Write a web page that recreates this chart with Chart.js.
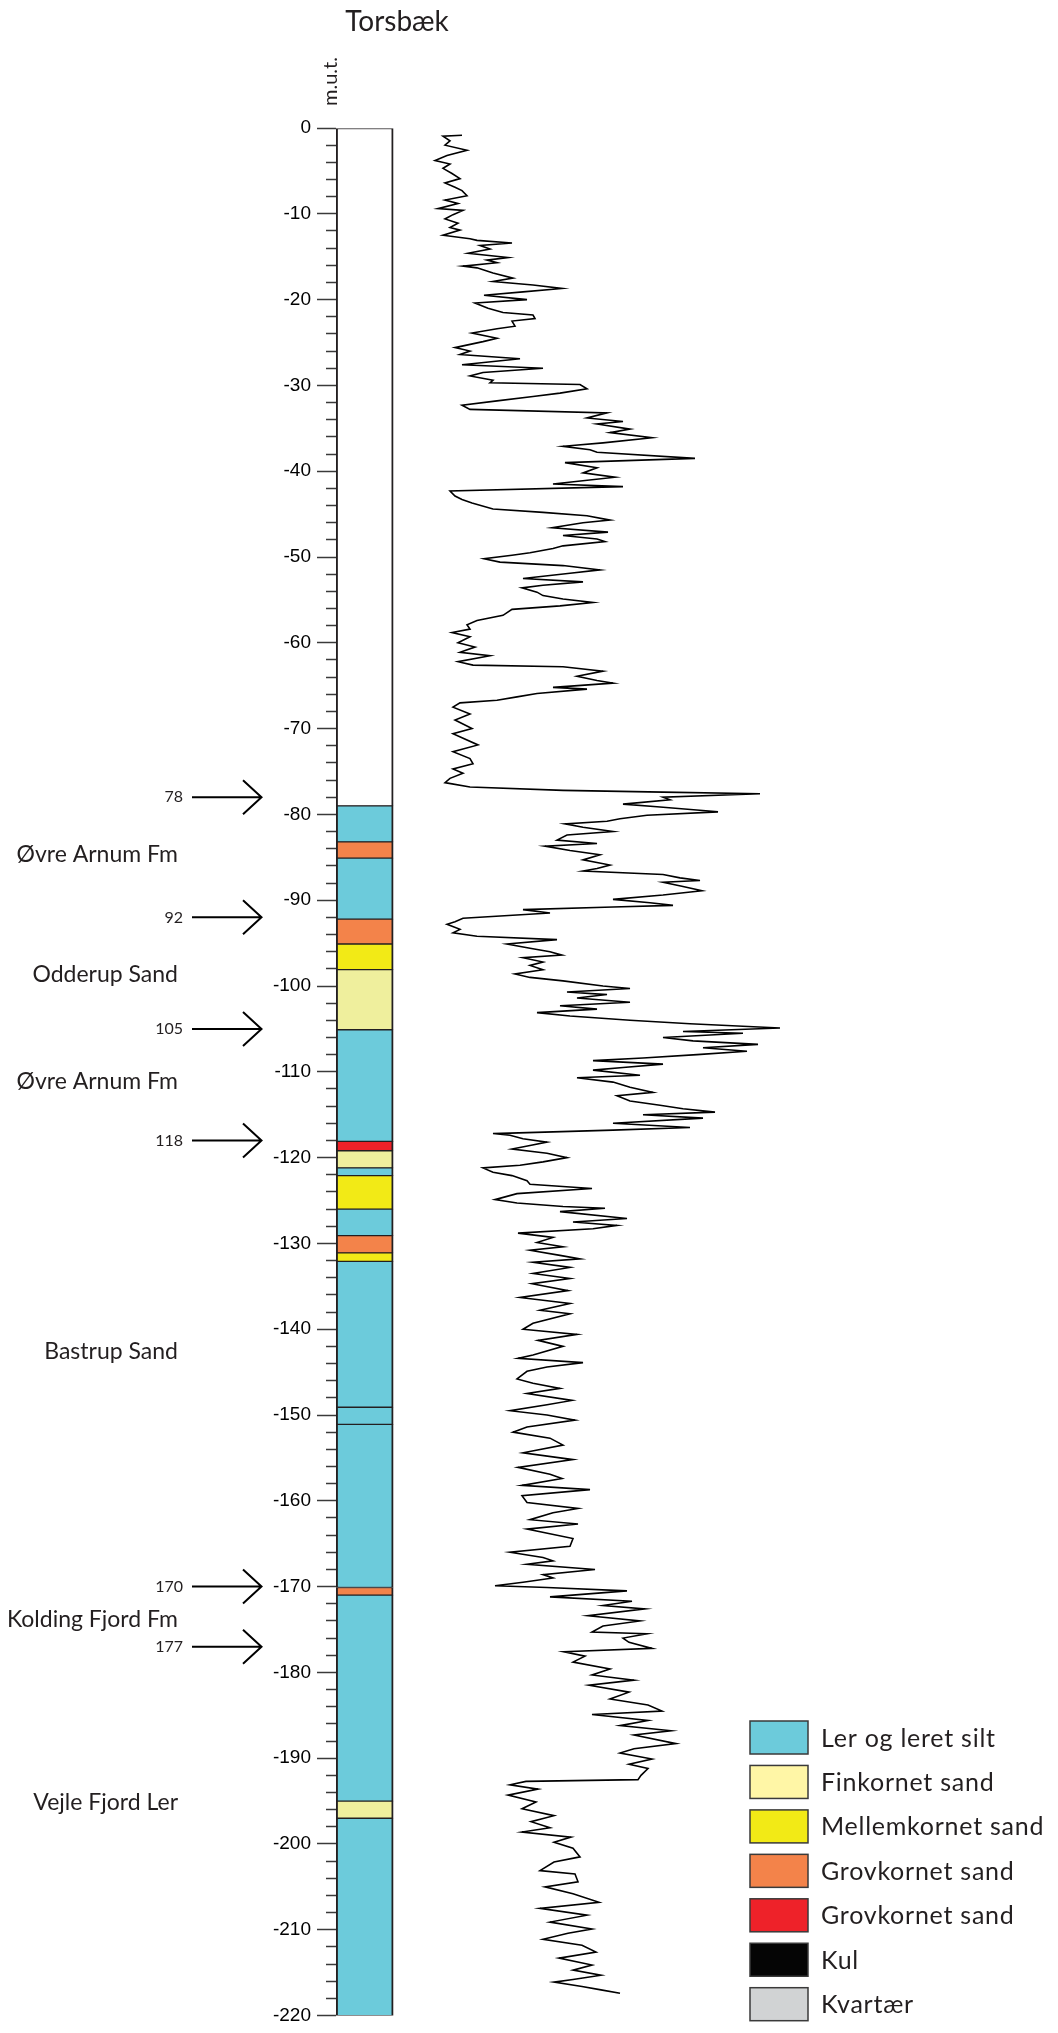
<!DOCTYPE html>
<html>
<head>
<meta charset="utf-8">
<script src="https://cdn.jsdelivr.net/npm/chart.js@4.4.1/dist/chart.umd.min.js"></script>
<style>
html,body{margin:0;padding:0;background:#fff;}
canvas{display:block;}
</style>
</head>
<body>
<canvas id="c" width="1058" height="2033"></canvas>
<script>
// ---------- DATA ----------
const chartTitle = 'Torsbæk';
const depthAxisTitle = 'm.u.t.';

// Lithology column (depth in m below surface)
const layerTop    = [0, 79, 83.2, 85.1, 92.2, 95.1, 98.1, 105.1, 118.1, 119.2, 121.2, 122.1, 126, 129.1, 131.1, 132.1, 149.1, 151.1, 170.1, 171, 195, 197];
const layerBottom = [79, 83.2, 85.1, 92.2, 95.1, 98.1, 105.1, 118.1, 119.2, 121.2, 122.1, 126, 129.1, 131.1, 132.1, 149.1, 151.1, 170.1, 171, 195, 197, 220];
// -1 = not described, otherwise index into lithoNames
const layerLitho  = [-1, 0, 3, 0, 3, 2, 1, 0, 4, 1, 0, 2, 0, 3, 2, 0, 0, 0, 3, 0, 1, 0];

const lithoNames  = ['Ler og leret silt', 'Finkornet sand', 'Mellemkornet sand', 'Grovkornet sand', 'Grovkornet sand', 'Kul', 'Kvartær'];

// Formation names and depths
const formationNames  = ['Øvre Arnum Fm', 'Odderup Sand', 'Øvre Arnum Fm', 'Bastrup Sand', 'Kolding Fjord Fm', 'Vejle Fjord Ler'];
const formationDepths = [84.7, 98.7, 111.1, 142.6, 173.8, 195.2];
const boundaryDepths  = [78, 92, 105, 118, 170, 177];

// Gamma log: depth (m) and reading
const logDepth = [
 0.85,0.96,1.5,2.0,2.6,3.2,3.8,4.2,4.7,5.3,
 5.9,6.4,6.9,7.3,7.9,8.4,8.8,9.4,9.6,10.1,
 10.6,11.1,11.6,11.9,12.5,12.9,13.1,13.4,13.7,14.1,
 14.6,15.1,15.4,15.7,16.1,16.3,16.9,17.5,17.9,18.3,
 18.7,19.1,19.5,20.0,20.4,21.0,21.5,21.8,22.2,22.5,
 23.1,23.4,23.9,24.5,24.9,25.6,26.0,26.4,26.9,27.6,
 28.0,28.5,28.9,29.4,29.7,29.9,30.4,30.9,31.3,31.8,
 32.3,32.8,33.2,33.8,34.2,34.5,35.1,35.5,36.1,36.7,
 37.1,37.5,37.8,38.5,39.0,39.6,40.2,40.7,41.5,41.8,
 42.3,42.9,43.3,43.7,44.4,44.8,45.2,45.7,46.0,46.6,
 47.1,47.5,47.9,48.2,48.7,49.0,49.5,49.8,50.2,50.6,
 51.0,51.5,51.9,52.5,52.9,53.3,53.6,54.1,54.5,54.9,
 55.3,55.7,56.1,56.8,57.4,57.9,58.4,58.8,59.3,60.0,
 60.5,61.1,61.5,62.2,62.6,62.8,63.3,63.9,64.4,64.7,
 65.2,65.4,65.9,66.3,66.7,67.0,67.5,68.3,69.0,70.0,
 70.6,71.9,72.7,73.5,74.1,74.7,75.2,75.8,76.3,76.8,
 77.2,77.4,77.6,78.0,78.3,78.8,79.1,79.7,80.1,80.5,
 80.8,81.1,81.5,82.0,82.4,83.0,83.4,83.7,84.2,84.7,
 85.3,85.9,86.3,86.6,87.0,87.4,87.7,87.9,88.4,88.9,
 89.4,89.9,90.3,90.6,90.8,91.1,91.5,92.1,92.5,92.8,
 93.4,93.8,94.2,94.6,95.1,95.6,96.0,96.4,96.7,97.2,
 97.6,98.1,98.6,99.0,99.4,100.0,100.3,100.7,101.0,101.4,
 101.9,102.3,102.7,103.1,103.5,104.0,104.4,104.9,105.3,105.5,
 106.0,106.4,106.8,107.2,107.6,108.0,108.4,108.7,109.1,109.5,
 109.8,110.4,110.7,111.2,111.8,112.4,112.8,113.4,113.9,114.3,
 114.7,115.0,115.4,116.0,116.5,116.8,117.2,117.4,117.8,118.2,
 118.6,119.0,119.5,120.0,120.5,120.9,121.2,121.7,122.1,122.7,
 123.1,123.6,124.2,124.9,125.3,125.7,125.9,126.3,127.1,127.5,
 127.9,128.3,128.8,129.3,129.9,130.4,130.8,131.4,131.8,132.2,
 132.8,133.5,134.1,134.7,135.5,136.3,137.0,137.8,138.2,139.3,
 140.0,140.6,141.3,142.0,143.0,143.4,143.9,144.4,144.9,145.8,
 146.3,146.9,147.5,148.3,148.8,149.5,150.0,150.6,151.4,152.0,
 152.7,153.5,154.4,155.2,156.1,156.9,157.4,158.2,158.7,159.4,
 160.2,160.9,161.4,162.2,162.7,163.3,164.4,165.3,166.0,166.6,
 167.0,167.4,168.0,168.6,169.0,169.5,169.9,170.1,170.5,171.2,
 171.7,172.2,172.6,173.4,174.0,174.6,175.3,175.5,176.0,176.5,
 177.2,177.6,178.1,178.8,179.6,180.3,180.9,181.5,182.3,183.1,
 183.8,184.5,184.9,185.6,186.2,186.8,187.3,188.3,188.9,189.4,
 190.1,190.7,191.2,192.0,192.5,192.7,193.1,193.6,194.3,195.1,
 195.9,196.7,197.4,198.1,198.6,199.2,199.8,200.5,201.5,202.1,
 203.1,203.5,204.4,205.0,205.8,206.8,207.5,208.3,209.1,209.9,
 210.4,211.1,211.8,212.6,213.3,214.1,214.7,215.3,215.8,216.1,
 216.6,217.0,217.4
];
const logValue = [
 62,43,50,45,67,47,35,50,43,52,
 60,45,55,62,67,45,58,38,63,53,
 45,58,50,60,43,70,77,112,80,90,
 68,108,87,97,63,77,93,113,93,133,
 162,123,84,127,75,88,103,133,135,112,
 115,97,72,97,83,55,70,60,120,62,
 143,83,70,93,90,180,187,160,133,97,
 62,70,207,187,223,197,230,210,252,203,
 163,190,197,295,165,197,183,215,153,223,
 50,55,62,72,93,143,187,210,183,152,
 208,163,197,205,163,153,130,112,84,100,
 163,200,170,123,183,143,122,137,143,163,
 193,160,112,103,77,67,70,52,70,58,
 75,60,90,58,73,163,203,177,197,213,
 153,187,137,117,97,60,53,70,55,72,
 53,78,53,70,73,53,63,50,45,70,
 163,263,360,263,270,223,257,318,247,220,
 207,165,183,213,167,157,197,145,170,200,
 183,210,197,183,263,280,300,263,283,302,
 263,213,250,273,213,123,150,63,55,47,
 60,53,77,157,107,130,150,162,123,143,
 130,143,115,130,163,203,230,167,207,177,
 230,160,197,137,170,230,290,380,283,343,
 263,293,358,303,347,297,243,193,263,223,
 193,240,177,213,230,253,217,230,260,283,
 315,243,303,213,290,213,93,110,123,147,
 130,112,147,167,143,120,83,93,112,127,
 130,192,117,95,117,163,205,160,227,173,
 217,193,118,153,137,163,130,160,180,133,
 170,133,170,132,168,120,170,140,170,133,
 123,177,138,163,133,118,183,147,127,117,
 133,160,127,172,147,110,147,175,127,113,
 150,163,123,173,118,150,162,122,190,122,
 127,178,153,130,178,127,173,170,110,143,
 153,127,195,143,153,123,95,147,227,150,
 232,203,245,188,240,203,192,247,223,229,
 252,164,185,173,210,192,234,189,229,210,
 248,262,192,248,220,271,234,276,234,220,
 252,229,248,241,238,126,110,138,108,136,
 122,154,131,150,122,171,154,173,180,154,
 140,175,178,145,173,199,140,187,150,192,
 168,143,182,196,159,192,173,201,173,154,
 182,201,220
];

// ---------- STYLE ----------
const legendColors = ['#6CCBDB', '#FFF6A6', '#F2EA16', '#F3834A', '#EE2229', '#050505', '#D1D3D4'];
const columnColors = ['#6CCBDB', '#EFEF9D', '#F2EA16', '#F3834A', '#EE2229', '#050505', '#D1D3D4'];
const textColor = '#231F20';
const COL_X = 28.7;          // column centre on the column axis
const LEFT = 336;            // chart area left edge

const annotations = {
  id: 'annotations',
  afterDraw(chart) {
    const ctx = chart.ctx;
    const ys = chart.scales.y;
    ctx.save();
    ctx.fillStyle = textColor;

    // title
    ctx.font = '28px Lato';
    ctx.textAlign = 'center';
    ctx.textBaseline = 'alphabetic';
    ctx.fillText(chartTitle, 397, 31);

    // rotated axis title
    ctx.save();
    ctx.translate(337, 106);
    ctx.rotate(-Math.PI / 2);
    ctx.font = '20px Lato';
    ctx.textAlign = 'left';
    ctx.fillText(depthAxisTitle, 0, 0);
    ctx.restore();

    // formation names
    ctx.font = '23px Lato';
    ctx.textAlign = 'right';
    ctx.textBaseline = 'middle';
    formationNames.forEach((n, i) => ctx.fillText(n, 178, ys.getPixelForValue(-formationDepths[i])));

    // boundary arrows
    ctx.font = '16px Lato';
    ctx.strokeStyle = '#000';
    ctx.lineWidth = 2;
    boundaryDepths.forEach(d => {
      const y = ys.getPixelForValue(-d);
      ctx.fillText(String(d), 183, y);
      ctx.beginPath();
      ctx.moveTo(192, y); ctx.lineTo(261, y);
      ctx.moveTo(243, y - 17); ctx.lineTo(261.5, y); ctx.lineTo(243, y + 17);
      ctx.stroke();
    });

    // legend
    const lx = 750, ly0 = 1721, pitch = 44.45, bw = 58, bh = 33;
    ctx.textAlign = 'left';
    ctx.font = '25px Lato';
    if ('letterSpacing' in ctx) ctx.letterSpacing = '0.75px';
    lithoNames.forEach((n, i) => {
      const y = ly0 + i * pitch;
      ctx.fillStyle = legendColors[i];
      ctx.fillRect(lx, y, bw, bh);
      ctx.strokeStyle = '#3a3a3a';
      ctx.lineWidth = 1.5;
      ctx.strokeRect(lx, y, bw, bh);
      ctx.fillStyle = textColor;
      ctx.fillText(n, 821, y + bh / 2 + 1);
    });
    ctx.restore();
  }
};

function draw() {
  const n = Math.min(logDepth.length, logValue.length);
  const logPoints = [];
  for (let i = 0; i < n; i++) logPoints.push({ x: logValue[i], y: -logDepth[i] });

  new Chart(document.getElementById('c'), {
    type: 'bar',
    data: {
      datasets: [
        {
          type: 'bar',
          xAxisID: 'xCol',
          yAxisID: 'y',
          data: layerTop.map((t, i) => ({ x: COL_X, y: [-t, -layerBottom[i]] })),
          backgroundColor: layerLitho.map(k => k < 0 ? '#ffffff' : columnColors[k]),
          borderColor: '#231F20',
          borderWidth: { left: 2, right: 2, top: 1, bottom: 1 },
          borderSkipped: false,
          grouped: false,
          barThickness: 57,
          order: 2
        },
        {
          type: 'scatter',
          xAxisID: 'xLog',
          yAxisID: 'y',
          showLine: true,
          data: logPoints,
          borderColor: '#000',
          borderWidth: 1.6,
          pointRadius: 0,
          fill: false,
          order: 1
        }
      ]
    },
    options: {
      responsive: false,
      animation: false,
      devicePixelRatio: 1,
      events: [],
      layout: { padding: { top: 128, bottom: 12, left: 0, right: 22 } },
      plugins: { legend: { display: false }, tooltip: { enabled: false }, title: { display: false } },
      scales: {
        xCol: { type: 'linear', display: false, min: 0, max: 700, offset: false },
        xLog: { type: 'linear', display: false, min: -64, max: 636, offset: false },
        y: {
          type: 'linear',
          position: 'left',
          min: -220,
          max: 0,
          afterFit(s) { s.width = LEFT; },
          border: { display: false },
          grid: {
            drawOnChartArea: false,
            drawTicks: true,
            tickLength: 19,
            tickWidth: 1.5,
            tickColor: '#3a3a3a',
            tickBorderDash: c => (c.tick && Math.round(c.tick.value) % 10 === 0) ? [] : [0, 9, 12, 40]
          },
          ticks: {
            stepSize: 2,
            autoSkip: false,
            maxTicksLimit: 1000,
            padding: 6,
            color: '#000',
            font: { family: '"Liberation Sans", Arial, sans-serif', size: 19 },
            callback: v => (Math.round(v) % 10 === 0 ? String(Math.round(v)) : '')
          }
        }
      }
    },
    plugins: [annotations]
  });
}

Promise.all([
  document.fonts.load('24px Lato'),
  document.fonts.load('19px "Liberation Sans"')
]).catch(() => {}).then(draw);
</script>
</body>
</html>
